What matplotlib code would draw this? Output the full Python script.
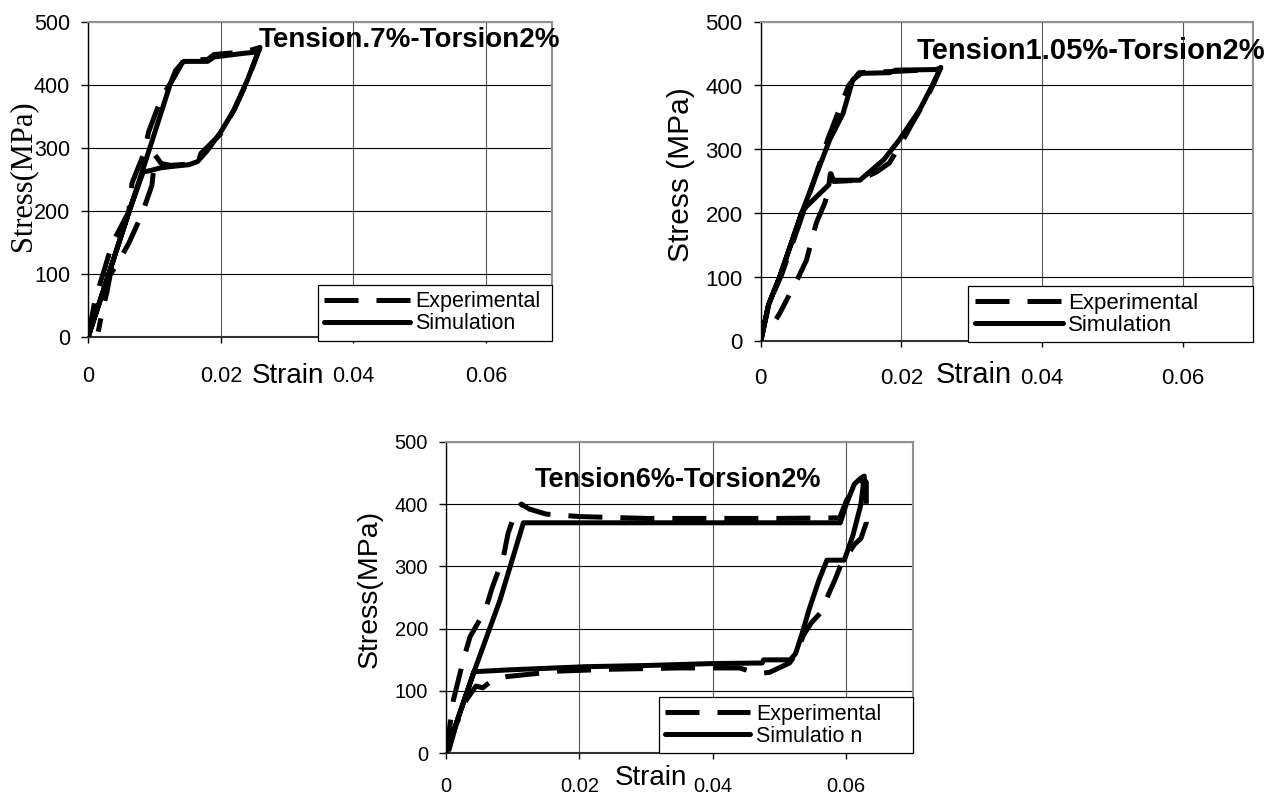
import matplotlib
matplotlib.use("Agg")
import matplotlib.pyplot as plt

plt.rcParams['font.family'] = ['Liberation Sans', 'DejaVu Sans']

# ---------------- data ----------------
xticks = [0, 0.02, 0.04, 0.06]
xticklabels = ["0", "0.02", "0.04", "0.06"]
yticks = [0, 100, 200, 300, 400, 500]

titles = ["Tension.7%-Torsion2%", "Tension1.05%-Torsion2%", "Tension6%-Torsion2%"]
ylabels = ["Stress(MPa)", "Stress (MPa)", "Stress(MPa)"]
xlabel = "Strain"
legend_labels = [["Experimental", "Simulation"],
                 ["Experimental", "Simulation"],
                 ["Experimental", "Simulatio n"]]

# Panel 1 : Tension .7% - Torsion 2%
sim1_x = [0, 0.0031, 0.0062, 0.0093, 0.0124, 0.0132, 0.0144, 0.0180, 0.0190, 0.0236,
          0.0256, 0.0259, 0.0240, 0.0220, 0.0200, 0.0180, 0.0165, 0.0152, 0.0124, 0.0109,
          0.0091, 0.0083, 0.0062, 0.0031, 0]
sim1_y = [0, 100, 200, 300, 402, 423, 437, 437, 444, 450,
          452, 459, 407, 360, 325, 296, 278, 273, 270, 268,
          263, 262, 200, 100, 0]
exp1_x = [0, 0.0010, 0.0025, 0.0036, 0.0061, 0.0066, 0.0084, 0.0091, 0.0111, 0.0127,
          0.0144, 0.0180, 0.0190, 0.0236, 0.0259, 0.0240, 0.0220, 0.0200, 0.0170, 0.0165,
          0.0124, 0.0110, 0.0101, 0.0096, 0.0086, 0.0076, 0.0061, 0.0045, 0.0033, 0.0028,
          0.0022, 0.0015]
exp1_y = [0, 58, 109, 148, 198, 244, 291, 325, 381, 407,
          439, 440, 448, 452, 459, 405, 360, 322, 291, 275,
          272, 275, 288, 240, 210, 183, 148, 118, 98, 70,
          45, 8]

# Panel 2 : Tension 1.05% - Torsion 2%
sim2_x = [0, 0.0011, 0.0027, 0.0058, 0.0098, 0.0117, 0.0131, 0.0143, 0.0183, 0.0192,
          0.0254, 0.0256, 0.0243, 0.0226, 0.0197, 0.0175, 0.0141, 0.0101, 0.0099, 0.0097,
          0.0065, 0.0058, 0.0027, 0.0011, 0]
sim2_y = [0, 57, 101, 200, 315, 356, 409, 419, 420, 424,
          425, 428, 398, 362, 315, 284, 252, 252, 262, 245,
          211, 200, 101, 57, 0]
exp2_x = [0, 0.0012, 0.0030, 0.0060, 0.0096, 0.0125, 0.0140, 0.0190, 0.0250, 0.0256,
          0.0247, 0.0232, 0.0215, 0.0200, 0.0183, 0.0165, 0.0140, 0.0104, 0.0100, 0.0098,
          0.0091, 0.0079, 0.0065, 0.0053, 0.0027, 0.0022]
exp2_y = [0, 60, 105, 200, 318, 400, 420, 422, 425, 428,
          405, 372, 340, 310, 279, 265, 252, 250, 262, 242,
          216, 185, 127, 99, 44, 35]

# Panel 3 : Tension 6% - Torsion 2%
sim3_x = [0, 0.0041, 0.0081, 0.0116, 0.0591, 0.0600, 0.0612, 0.0622, 0.0627, 0.0622,
          0.0610, 0.0597, 0.0571, 0.0559, 0.0544, 0.0534, 0.0524, 0.0516, 0.0476, 0.0474,
          0.0398, 0.0303, 0.0209, 0.0096, 0.0042, 0.0041, 0]
sim3_y = [0, 128, 246, 370, 370, 400, 432, 442, 445, 400,
          350, 310, 310, 278, 230, 193, 160, 150, 150, 145,
          144, 141, 139, 134, 131, 128, 0]
exp3_x = [0, 0.0011, 0.0026, 0.0036, 0.0059, 0.0069, 0.0086, 0.0093, 0.0105, 0.0113,
          0.0125, 0.0150, 0.0200, 0.0300, 0.0500, 0.0590, 0.0600, 0.0612, 0.0625, 0.0630,
          0.0630, 0.0622, 0.0612, 0.0591, 0.0584, 0.0561, 0.0548, 0.0536, 0.0525, 0.0515,
          0.0495, 0.0485, 0.0470, 0.0455, 0.0440, 0.0350, 0.0250, 0.0170, 0.0126, 0.0090,
          0.0070, 0.0055, 0.0045, 0.0030, 0.0015, 0.0003]
exp3_y = [0, 85, 150, 187, 230, 265, 315, 353, 390, 400,
          392, 384, 380, 377, 377, 378, 405, 428, 443, 435,
          370, 345, 335, 300, 281, 225, 210, 190, 160, 145,
          135, 130, 128, 132, 137, 137, 135, 132, 127, 123,
          118, 105, 108, 85, 45, 0]

panels = [(sim1_x, sim1_y, exp1_x, exp1_y),
          (sim2_x, sim2_y, exp2_x, exp2_y),
          (sim3_x, sim3_y, exp3_x, exp3_y)]

# ---------------- layout (figure pixels) ----------------
W, H = 1288, 796
fig = plt.figure(figsize=(W / 100, H / 100), dpi=100)

# left, top, right, bottom in pixels
boxes = [(88.3, 21.7, 552, 336.7),
         (760.7, 21.5, 1253, 341.5),
         (446, 441.8, 913, 753.3)]

tick_fs = [15.5, 16, 14.5]
leg_fs = [15.5, 16, 15.5]
title_fs = [20, 21, 19.5]
title_pos = [(0.3666, 0.9206), (0.3169, 0.8819), (0.1906, 0.8559)]
ylab_pos = [(-0.1408, 0.510), (-0.1619, 0.520), (-0.1627, 0.529)]
ylab_fs = [22, 21.5, 20.5]
ylab_family = [['Liberation Serif'], ['Liberation Sans'], ['Liberation Sans']]
xlab_pos = [(0.4307, -0.147), (0.4333, -0.1306), (0.439, -0.1018)]
xlab_fs = [20, 21, 20]
xtick_pad = [17, 15, 13]
# legend boxes in axes coords: x0, y0, width
leg_box = [(0.4954, -0.0127, 0.5046), (0.4214, -0.003, 0.5786), (0.4561, 0.0, 0.5439)]

lw = 3.6
dash = (0, (6.8, 3.6))

for i, (sx, sy, ex, ey) in enumerate(panels):
    l, t, r, b = boxes[i]
    ax = fig.add_axes([l / W, 1 - b / H, (r - l) / W, (b - t) / H])
    ax.set_xlim(0, 0.07)
    ax.set_ylim(0, 500)

    ax.plot(ex, ey, color='black', lw=lw, linestyle=dash, label=legend_labels[i][0],
            solid_capstyle='butt', dash_capstyle='butt', zorder=3)
    ax.plot(sx, sy, color='black', lw=lw, linestyle='-', label=legend_labels[i][1],
            solid_joinstyle='round', solid_capstyle='round', zorder=4)

    ax.set_xticks(xticks)
    ax.set_xticklabels(xticklabels)
    ax.set_yticks(yticks)
    ax.tick_params(axis='x', direction='out', length=4, width=1, pad=xtick_pad[i],
                   labelsize=tick_fs[i], colors='black')
    ax.tick_params(axis='y', direction='out', length=5, width=1, pad=8,
                   labelsize=tick_fs[i], colors='black')

    ax.grid(axis='y', color='black', lw=0.8, zorder=1)
    ax.grid(axis='x', color='#555555', lw=0.8, zorder=1)
    ax.set_axisbelow(True)

    for side in ['top', 'right']:
        ax.spines[side].set_color('#909090')
        ax.spines[side].set_linewidth(1.5)
    ax.spines['left'].set_color('black')
    ax.spines['left'].set_linewidth(1.0)
    ax.spines['bottom'].set_color('#303030')
    ax.spines['bottom'].set_linewidth(1.5)

    ax.text(title_pos[i][0], title_pos[i][1], titles[i], transform=ax.transAxes,
            ha='left', va='baseline', fontsize=title_fs[i], fontweight='bold',
            zorder=6, clip_on=False)

    ax.set_ylabel(ylabels[i], fontsize=ylab_fs[i], family=ylab_family[i], va='center')
    ax.yaxis.set_label_coords(*ylab_pos[i])
    ax.set_xlabel(xlabel, fontsize=xlab_fs[i], va='baseline')
    ax.xaxis.set_label_coords(*xlab_pos[i])

    x0, y0, wd = leg_box[i]
    leg = ax.legend(loc='lower left', bbox_to_anchor=(x0, y0, wd, 0.2), mode='expand',
                    fontsize=leg_fs[i], frameon=True, fancybox=False, shadow=False,
                    borderaxespad=0, borderpad=0.3, labelspacing=0.05,
                    handlelength=3.95, handletextpad=0.25)
    leg.get_frame().set_edgecolor('black')
    leg.get_frame().set_linewidth(0.9)
    leg.get_frame().set_facecolor('white')
    leg.get_frame().set_alpha(1)
    leg.set_zorder(5)

fig.savefig("out.png", dpi=100)
